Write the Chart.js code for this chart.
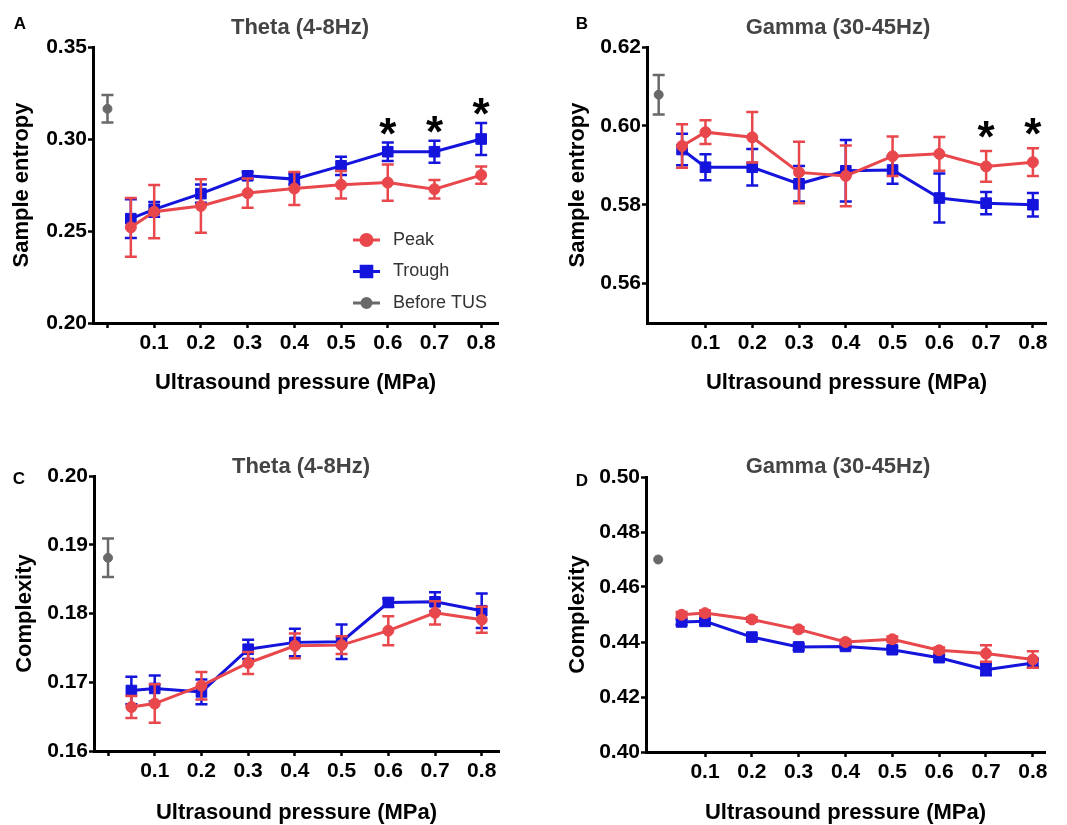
<!DOCTYPE html>
<html>
<head>
<meta charset="utf-8">
<script src="https://cdn.jsdelivr.net/npm/chart.js@4.4.1/dist/chart.umd.min.js"></script>
<style>
  body { margin: 0; background: #fff; }
  #wrap { position: relative; width: 1067px; height: 825px; }
  canvas { position: absolute; }
</style>
</head>
<body>
<div id="wrap">
  <canvas id="pA" width="533" height="415" style="left:0;top:0"></canvas>
  <canvas id="pB" width="534" height="415" style="left:533px;top:0"></canvas>
  <canvas id="pC" width="533" height="405" style="left:0;top:420px"></canvas>
  <canvas id="pD" width="534" height="405" style="left:533px;top:420px"></canvas>
</div>
<script>
const FONT = "'Liberation Sans', Arial, sans-serif";
const RED = '#e8474c';
const BLUE = '#1414dc';
const GRAY = '#696969';

// x positions (MPa); "before TUS" sits at 0
const pressures = [0.05, 0.1, 0.2, 0.3, 0.4, 0.5, 0.6, 0.7, 0.8];
const beforeX = [0];

// A - sample entropy, theta
const sampEnThetaPeak = [0.252, 0.2605, 0.2636, 0.2706, 0.2731, 0.2751, 0.2763, 0.2727, 0.2804];
const sampEnThetaPeakErr = [0.016, 0.0145, 0.0145, 0.008, 0.009, 0.0075, 0.0098, 0.005, 0.0047];
const sampEnThetaTrough = [0.2567, 0.2618, 0.2703, 0.280, 0.2782, 0.2854, 0.2931, 0.2931, 0.300];
const sampEnThetaTroughErr = [0.0105, 0.004, 0.005, 0.002, 0.003, 0.005, 0.005, 0.006, 0.0087];
const sampEnThetaBefore = [0.3164];
const sampEnThetaBeforeErr = [0.0075];
const sampEnThetaSig = [0.6, 0.7, 0.8];

// B - sample entropy, gamma
const sampEnGammaPeak = [0.5949, 0.5984, 0.5971, 0.5882, 0.5873, 0.5923, 0.5929, 0.5897, 0.5908];
const sampEnGammaPeakErr = [0.0055, 0.003, 0.0064, 0.0078, 0.0077, 0.005, 0.0043, 0.0039, 0.0035];
const sampEnGammaTrough = [0.594, 0.5895, 0.5895, 0.5853, 0.5886, 0.5888, 0.5817, 0.5804, 0.580];
const sampEnGammaTroughErr = [0.004, 0.0033, 0.0046, 0.0045, 0.0078, 0.0035, 0.0062, 0.0028, 0.003];
const sampEnGammaBefore = [0.6079];
const sampEnGammaBeforeErr = [0.005];
const sampEnGammaSig = [0.7, 0.8];

// C - complexity, theta
const lzcThetaPeak = [0.1664, 0.1669, 0.1695, 0.1728, 0.1753, 0.1754, 0.1775, 0.1801, 0.1791];
const lzcThetaPeakErr = [0.0016, 0.0028, 0.002, 0.0016, 0.0018, 0.0013, 0.0021, 0.0017, 0.0019];
const lzcThetaTrough = [0.1688, 0.1691, 0.1686, 0.1748, 0.1758, 0.1759, 0.1816, 0.1817, 0.1804];
const lzcThetaTroughErr = [0.002, 0.0019, 0.0018, 0.0014, 0.002, 0.0025, 0.0006, 0.0014, 0.0025];
const lzcThetaBefore = [0.1881];
const lzcThetaBeforeErr = [0.0028];

// D - complexity, gamma
const lzcGammaPeak = [0.4499, 0.4505, 0.4482, 0.4446, 0.4400, 0.4410, 0.4370, 0.4358, 0.4336];
const lzcGammaPeakErr = [0.001, 0.001, 0.0008, 0.0008, 0.0008, 0.001, 0.001, 0.003, 0.003];
const lzcGammaTrough = [0.4473, 0.4475, 0.4418, 0.4382, 0.4384, 0.4372, 0.4343, 0.4299, 0.4324];
const lzcGammaTroughErr = [0.001, 0.001, 0.0008, 0.001, 0.0008, 0.001, 0.001, 0.002, 0.0015];
const lzcGammaBefore = [0.470];
const lzcGammaBeforeErr = [0];

// tick labels
const xTicksWithZero = [0, 0.1, 0.2, 0.3, 0.4, 0.5, 0.6, 0.7, 0.8];
const xTicksNoZero = [0.1, 0.2, 0.3, 0.4, 0.5, 0.6, 0.7, 0.8];
const yTicksA = [0.20, 0.25, 0.30, 0.35];
const yTicksB = [0.56, 0.58, 0.60, 0.62];
const yTicksC = [0.16, 0.17, 0.18, 0.19, 0.20];
const yTicksD = [0.40, 0.42, 0.44, 0.46, 0.48, 0.50];

const errorBars = {
  id: 'errorBars',
  beforeDatasetDraw(chart, args) {
    const ds = chart.data.datasets[args.index];
    if (!ds.errors) return;
    const ctx = chart.ctx;
    const y = chart.scales.y;
    ctx.save();
    ctx.strokeStyle = ds.borderColor;
    ctx.lineWidth = 2.5;
    args.meta.data.forEach((pt, i) => {
      const e = ds.errors[i];
      if (!e) return;
      const v = ds.data[i].y;
      const top = y.getPixelForValue(v + e);
      const bot = y.getPixelForValue(v - e);
      ctx.beginPath();
      ctx.moveTo(pt.x, top); ctx.lineTo(pt.x, bot);
      ctx.moveTo(pt.x - 6, top); ctx.lineTo(pt.x + 6, top);
      ctx.moveTo(pt.x - 6, bot); ctx.lineTo(pt.x + 6, bot);
      ctx.stroke();
    });
    ctx.restore();
  }
};

const panelText = {
  id: 'panelText',
  afterDraw(chart, args, o) {
    const ctx = chart.ctx;
    ctx.save();
    ctx.textAlign = 'center';
    ctx.textBaseline = 'middle';
    ctx.fillStyle = '#000';
    ctx.font = 'bold 17px ' + FONT;
    ctx.fillText(o.letter, o.letterX, o.letterY);
    ctx.fillStyle = '#444';
    ctx.font = 'bold 22px ' + FONT;
    ctx.fillText(o.title, o.titleX, o.titleY);

    // significance stars above the highest error bar
    const xs = chart.scales.x, ys = chart.scales.y;
    ctx.fillStyle = '#000';
    ctx.font = 'bold 44px ' + FONT;
    ctx.textBaseline = 'alphabetic';
    const m = ctx.measureText('*');
    (o.stars || []).forEach(sx => {
      let top = -Infinity;
      chart.data.datasets.slice(0, 2).forEach(ds => {
        const i = ds.data.findIndex(p => p.x === sx);
        if (i >= 0) top = Math.max(top, ds.data[i].y + (ds.errors[i] || 0));
      });
      const cy = ys.getPixelForValue(top) - o.starGap;
      const base = cy + (m.actualBoundingBoxAscent - m.actualBoundingBoxDescent) / 2;
      ctx.fillText('*', xs.getPixelForValue(sx), base);
    });

    // legend drawn inside the plot
    if (o.legend) {
      ctx.textAlign = 'left';
      ctx.textBaseline = 'middle';
      ctx.font = '18px ' + FONT;
      chart.data.datasets.forEach((ds, i) => {
        const y = o.legend.y + i * o.legend.dy;
        const x0 = o.legend.x;
        ctx.strokeStyle = ds.borderColor;
        ctx.lineWidth = 3;
        ctx.beginPath();
        ctx.moveTo(x0, y); ctx.lineTo(x0 + 27, y);
        ctx.stroke();
        ctx.fillStyle = ds.borderColor;
        Chart.helpers.drawPoint(ctx, {
          pointStyle: ds.pointStyle, radius: ds.pointRadius, rotation: 0, borderWidth: 1
        }, x0 + 13.5, y);
        ctx.fill();
        ctx.fillStyle = '#333';
        ctx.fillText(ds.label, x0 + 40, y);
      });
    }
    ctx.restore();
  }
};

function panel(id, o) {
  const pts = (xs, ys) => xs.map((x, i) => ({ x: x, y: ys[i] }));
  return new Chart(document.getElementById(id), {
    type: 'line',
    data: {
      datasets: [
        {
          label: 'Peak', data: pts(pressures, o.peak), errors: o.peakErr,
          borderColor: RED, backgroundColor: RED, pointBackgroundColor: RED,
          pointStyle: 'circle', pointRadius: 5.5, borderWidth: 3, pointBorderWidth: 1
        },
        {
          label: 'Trough', data: pts(pressures, o.trough), errors: o.troughErr,
          borderColor: BLUE, backgroundColor: BLUE, pointBackgroundColor: BLUE,
          pointStyle: 'rect', pointRadius: 7.5, borderWidth: 3, pointBorderWidth: 1
        },
        {
          label: 'Before TUS', data: pts(beforeX, o.before), errors: o.beforeErr,
          borderColor: GRAY, backgroundColor: GRAY, pointBackgroundColor: GRAY,
          pointStyle: 'circle', pointRadius: 4.5, showLine: false, pointBorderWidth: 1
        }
      ]
    },
    options: {
      responsive: false,
      animation: false,
      events: [],
      layout: { padding: { top: o.padTop, right: o.padRight, left: 0, bottom: 0 } },
      plugins: {
        legend: { display: false },
        tooltip: { enabled: false },
        panelText: o.text
      },
      scales: {
        x: {
          type: 'linear', min: o.xMin, max: o.xMax,
          afterBuildTicks: s => { s.ticks = o.xTicks.map(v => ({ value: v })); },
          afterFit: s => { s.height = o.xHeight; },
          ticks: {
            autoSkip: false, maxRotation: 0, padding: 2.5, color: '#000',
            font: { family: FONT, size: 21, weight: 'bold' },
            callback: v => v === 0 ? '' : v.toFixed(1)
          },
          grid: { drawOnChartArea: false, tickLength: 5, tickWidth: 2.5, tickColor: '#000' },
          border: { color: '#000', width: 3 },
          title: {
            display: true, text: 'Ultrasound pressure (MPa)', color: '#000',
            font: { family: FONT, size: 22, weight: 'bold' },
            padding: { top: 0, bottom: o.xTitlePad }
          }
        },
        y: {
          min: o.yMin, max: o.yMax,
          afterBuildTicks: s => { s.ticks = o.yTicks.map(v => ({ value: v })); },
          afterFit: s => { s.width = o.yWidth; },
          ticks: {
            padding: 1, color: '#000',
            font: { family: FONT, size: 21, weight: 'bold' },
            callback: v => v.toFixed(2)
          },
          grid: { drawOnChartArea: false, tickLength: 5, tickWidth: 2.5, tickColor: '#000' },
          border: { color: '#000', width: 3 },
          title: {
            display: true, text: o.yTitle, color: '#000',
            font: { family: FONT, size: 22, weight: 'bold' },
            padding: { top: o.yTitlePad, bottom: 0 }
          }
        }
      }
    },
    plugins: [errorBars, panelText]
  });
}

panel('pA', {
  peak: sampEnThetaPeak, peakErr: sampEnThetaPeakErr,
  trough: sampEnThetaTrough, troughErr: sampEnThetaTroughErr,
  before: sampEnThetaBefore, beforeErr: sampEnThetaBeforeErr,
  xTicks: xTicksWithZero, yTicks: yTicksA,
  xMin: -0.031, xMax: 0.836, yMin: 0.20, yMax: 0.35,
  padTop: 47, padRight: 35, yWidth: 93, xHeight: 92,
  yTitle: 'Sample entropy', yTitlePad: 9, xTitlePad: 19,
  text: {
    letter: 'A', letterX: 20, letterY: 24, title: 'Theta (4-8Hz)', titleX: 300, titleY: 28,
    stars: sampEnThetaSig, starGap: 16,
    legend: { x: 353, y: 240, dy: 31.5 }
  }
});

panel('pB', {
  peak: sampEnGammaPeak, peakErr: sampEnGammaPeakErr,
  trough: sampEnGammaTrough, troughErr: sampEnGammaTroughErr,
  before: sampEnGammaBefore, beforeErr: sampEnGammaBeforeErr,
  xTicks: xTicksNoZero, yTicks: yTicksB,
  xMin: -0.025, xMax: 0.828, yMin: 0.55, yMax: 0.62,
  padTop: 47, padRight: 21, yWidth: 114, xHeight: 92,
  yTitle: 'Sample entropy', yTitlePad: 32, xTitlePad: 19,
  text: {
    letter: 'B', letterX: 49, letterY: 24, title: 'Gamma (30-45Hz)', titleX: 305, titleY: 28,
    stars: sampEnGammaSig, starGap: 22
  }
});

panel('pC', {
  peak: lzcThetaPeak, peakErr: lzcThetaPeakErr,
  trough: lzcThetaTrough, troughErr: lzcThetaTroughErr,
  before: lzcThetaBefore, beforeErr: lzcThetaBeforeErr,
  xTicks: xTicksWithZero, yTicks: yTicksC,
  xMin: -0.030, xMax: 0.837, yMin: 0.16, yMax: 0.20,
  padTop: 56, padRight: 34, yWidth: 94, xHeight: 74,
  yTitle: 'Complexity', yTitlePad: 12, xTitlePad: -1,
  text: { letter: 'C', letterX: 19, letterY: 59, title: 'Theta (4-8Hz)', titleX: 301, titleY: 47 }
});

panel('pD', {
  peak: lzcGammaPeak, peakErr: lzcGammaPeakErr,
  trough: lzcGammaTrough, troughErr: lzcGammaTroughErr,
  before: lzcGammaBefore, beforeErr: lzcGammaBeforeErr,
  xTicks: xTicksNoZero, yTicks: yTicksD,
  xMin: -0.026, xMax: 0.826, yMin: 0.40, yMax: 0.50,
  padTop: 57, padRight: 22, yWidth: 113, xHeight: 73,
  yTitle: 'Complexity', yTitlePad: 32, xTitlePad: -1,
  text: { letter: 'D', letterX: 49, letterY: 61, title: 'Gamma (30-45Hz)', titleX: 305, titleY: 47 }
});
</script>
</body>
</html>
